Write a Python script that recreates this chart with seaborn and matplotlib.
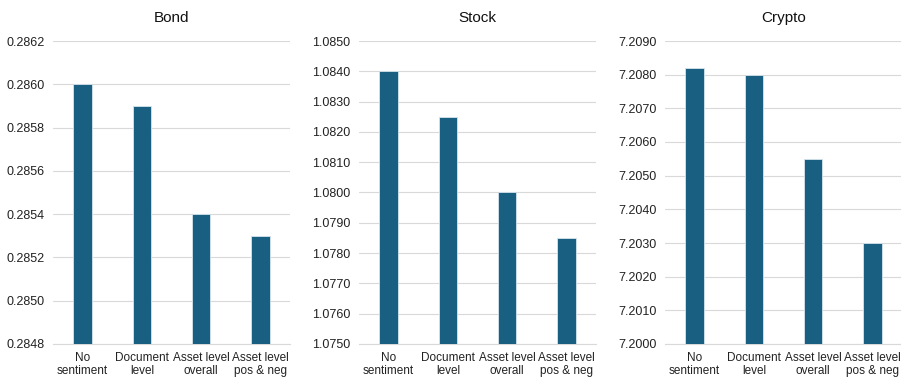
import matplotlib
matplotlib.use("Agg")
import matplotlib.pyplot as plt
import seaborn as sns
import pandas as pd
from matplotlib.ticker import FormatStrFormatter, MultipleLocator

categories = ["No\nsentiment", "Document\nlevel", "Asset level\noverall", "Asset level\npos & neg"]
titles = ["Bond", "Stock", "Crypto"]
bond_values = [0.2860, 0.2859, 0.2854, 0.2853]
stock_values = [1.0840, 1.0825, 1.0800, 1.0785]
crypto_values = [7.2082, 7.2080, 7.2055, 7.2030]
ylims = [(0.2848, 0.2862), (1.0750, 1.0850), (7.2000, 7.2090)]
ysteps = [0.0002, 0.0010, 0.0010]

sns.set_theme(style="white")
plt.rcParams['font.family'] = ['Liberation Sans', 'DejaVu Sans']

fig = plt.figure(figsize=(9.01, 3.77), dpi=100)
lefts = [53 / 901, 359 / 901, 665 / 901]
width = 237 / 901
bottom = 1 - 344 / 377
height = (344 - 41) / 377

bar_color = "#185F82"
series = [bond_values, stock_values, crypto_values]
for i, (vals, title) in enumerate(zip(series, titles)):
    ax = fig.add_axes([lefts[i], bottom, width, height])
    df = pd.DataFrame({"cat": categories, "val": vals})
    sns.barplot(data=df, x="cat", y="val", color=bar_color, width=0.31,
                edgecolor="#D6E4EC", linewidth=0.6, ax=ax, saturation=1, zorder=3)
    ax.set_ylim(*ylims[i])
    ax.set_xlim(-0.5, 3.5)
    ax.yaxis.set_major_locator(MultipleLocator(ysteps[i]))
    ax.yaxis.set_major_formatter(FormatStrFormatter('%.4f'))
    ax.grid(axis='y', color="#D9D9D9", linewidth=0.8, zorder=0)
    ax.set_axisbelow(True)
    for s in ["top", "right", "left"]:
        ax.spines[s].set_visible(False)
    ax.spines["bottom"].set_color("#D9D9D9")
    ax.spines["bottom"].set_linewidth(0.8)
    ax.set_xlabel("")
    ax.set_ylabel("")
    ax.tick_params(axis='y', length=0, labelsize=9, colors="#222222", pad=6)
    ax.tick_params(axis='x', length=0, labelsize=8.5, colors="#222222", pad=6)
    for lbl in ax.get_xticklabels():
        lbl.set_linespacing(1.02)
    ax.set_title(title, fontsize=11, color="#111111", pad=14)

fig.savefig("out.png", dpi=100)
